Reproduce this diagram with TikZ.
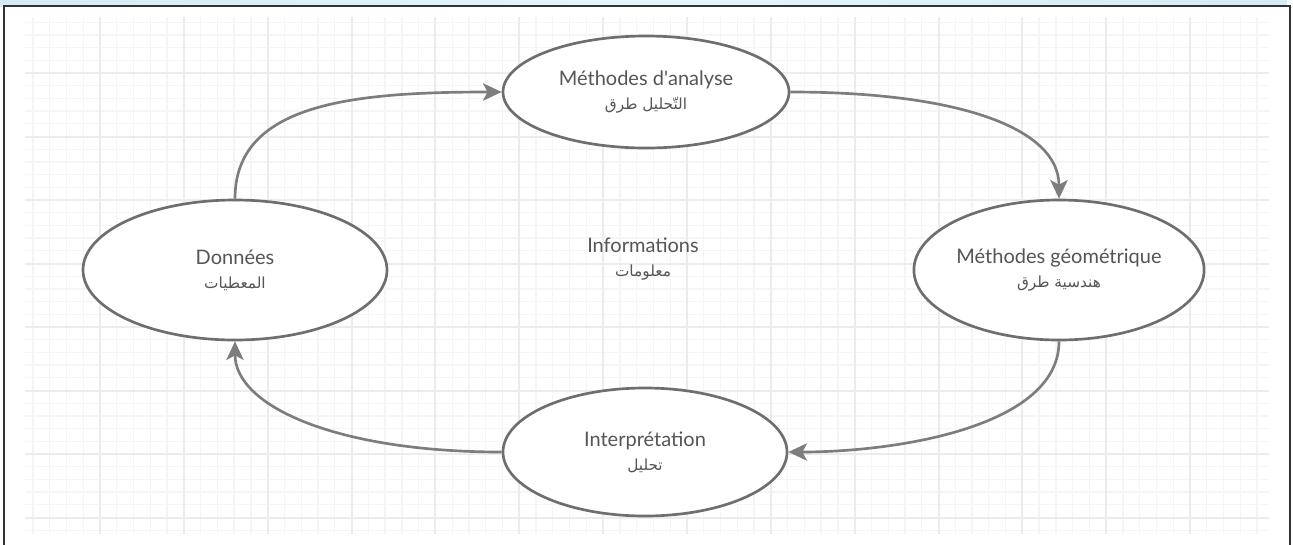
\documentclass[tikz,border=0pt]{standalone}
\usepackage{fontspec}
\setmainfont{Lato}
\newfontfamily\arabicfont[Script=Arabic]{DejaVu Sans}
\TeXXeTstate=1
\usepackage{tikz}
\usetikzlibrary{shapes.geometric, arrows.meta, positioning}
\definecolor{edgegray}{RGB}{110, 110, 110}
\definecolor{flowgray}{RGB}{125, 125, 125}
\definecolor{txtgray}{RGB}{85, 85, 85}
\definecolor{gridminor}{RGB}{245, 245, 245}
\definecolor{gridmajor}{RGB}{236, 236, 236}
\definecolor{bandblue}{RGB}{214, 234, 246}
\definecolor{bandcyan}{RGB}{226, 246, 250}
\newcommand{\artxt}[1]{{\arabicfont\fontsize{11.5}{13}\selectfont\beginR #1\endR}}

\begin{document}
\begin{tikzpicture}[x=0.75pt, y=-0.75pt,
  stage/.style={ellipse, draw=edgegray, line width=2pt, fill=white, inner sep=0pt,
    align=center, text=txtgray, font=\fontsize{15}{17}\selectfont},
  flow/.style={draw=flowgray, line width=2pt, -{Stealth[length=14pt, width=13pt, inset=3.5pt]}}]
  \useasboundingbox (0,0) rectangle (1293,544);
  \begin{scope}
    \clip (0,0) rectangle (1293,544);
    \shade[left color=bandblue, right color=bandblue, middle color=bandcyan] (0,0) rectangle (1287,6);
    \fill[white] (4,6) rectangle (1290,560);
    % grid
    \foreach \j in {-4,...,69}
      \draw[gridminor, line width=1pt] ({100+16.77*\j},17) -- ({100+16.77*\j},534);
    \foreach \j in {-4,...,36}
      \draw[gridminor, line width=1pt] (25,{73+12.7*\j}) -- (1269,{73+12.7*\j});
    \foreach \k in {0,...,13}
      \draw[gridmajor, line width=1.5pt] ({100+83.85*\k},17) -- ({100+83.85*\k},534);
    \foreach \k in {0,...,7}
      \draw[gridmajor, line width=1.5pt] (25,{73+63.5*\k}) -- (1269,{73+63.5*\k});
    \draw[black!80, line width=1.5pt] (4,6) rectangle (1290,580);
  \end{scope}

  \node[stage, minimum width=214.5pt, minimum height=84pt] (analyse) at (646,92)
    {Méthodes d\textquotesingle analyse\\[1pt]\artxt{التّحليل طرق}};
  \node[stage, minimum width=205.5pt, minimum height=105pt] (geom) at (1059,270)
    {Méthodes géométrique\\[1pt]\artxt{هندسية طرق}};
  \node[stage, minimum width=213pt, minimum height=96pt] (interp) at (645,452)
    {Interprétation\\[1pt]\artxt{تحليل}};
  \node[stage, minimum width=228pt, minimum height=105pt] (donnees) at (235,270)
    {Données\\[1pt]\artxt{المعطيات}};
  \node[align=center, text=txtgray, font=\fontsize{15}{17}\selectfont] (info) at (643,259)
    {Informations\\[1pt]\artxt{معلومات}};

  \draw[flow] (donnees.north) .. controls +(0,-95) and +(-150,0) .. (analyse.west);
  \draw[flow] (analyse.east) .. controls +(170,0) and +(0,-70) .. (geom.north);
  \draw[flow] (geom.south) .. controls +(0,85) and +(110,0) .. (interp.east);
  \draw[flow] (interp.west) .. controls +(-165,0) and +(0,65) .. (donnees.south);
\end{tikzpicture}
\end{document}
